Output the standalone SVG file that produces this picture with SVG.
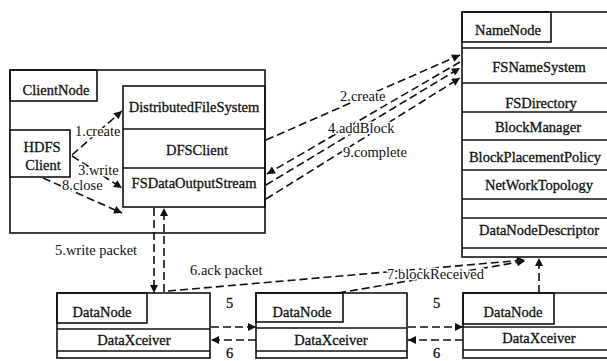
<svg xmlns="http://www.w3.org/2000/svg" width="607" height="361" viewBox="0 0 607 361">
<style>
.box{fill:none;stroke:#111;stroke-width:1.6}
.wbox{fill:#fff;stroke:#111;stroke-width:1.6}
.div{stroke:#111;stroke-width:1.4}
text{font-family:"Liberation Serif","Times New Roman",serif;font-size:14.5px;fill:#111;stroke:#111;stroke-width:0.3}
.c{text-anchor:middle}
.lbl{paint-order:stroke;stroke:#fff;stroke-width:3px;stroke-linejoin:round}
.con{fill:none;stroke:#111;stroke-width:1.6;stroke-dasharray:8 4}
</style>
<defs>
<marker id="ah" viewBox="0 0 10 10" refX="10" refY="5" markerWidth="10" markerHeight="8" markerUnits="userSpaceOnUse" orient="auto">
<path d="M0,0 L10,5 L0,10 z" fill="#111"/>
</marker>
</defs>

<g id="ClientNode">
<rect class="box" x="10" y="70" width="255" height="163"/>
<rect class="box" x="10" y="70" width="87" height="31"/>
<text class="c" x="56" y="95">ClientNode</text>
<rect class="box" x="123" y="86" width="142" height="121"/>
<line class="div" x1="123" y1="129" x2="265" y2="129"/>
<line class="div" x1="123" y1="168" x2="265" y2="168"/>
<text class="c" x="194" y="112">DistributedFileSystem</text>
<text class="c" x="197" y="155">DFSClient</text>
<text class="c" x="194" y="188">FSDataOutputStream</text>
</g>

<g id="HDFSClient">
<rect class="wbox" x="10" y="130" width="60" height="47"/>
<text class="c" x="42" y="152">HDFS</text>
<text class="c" x="43" y="170">Client</text>
</g>

<g id="NameNode">
<rect class="box" x="462" y="12" width="152" height="245"/>
<rect class="box" x="462" y="12" width="89" height="30"/>
<text class="c" x="508" y="35">NameNode</text>
<line class="div" x1="462" y1="48" x2="607" y2="48"/>
<line class="div" x1="462" y1="83" x2="607" y2="83"/>
<line class="div" x1="462" y1="112" x2="607" y2="112"/>
<line class="div" x1="462" y1="140" x2="607" y2="140"/>
<line class="div" x1="462" y1="170" x2="607" y2="170"/>
<line class="div" x1="462" y1="199" x2="607" y2="199"/>
<line class="div" x1="462" y1="218" x2="607" y2="218"/>
<line class="div" x1="462" y1="248" x2="607" y2="248"/>
<text class="c" x="539" y="72">FSNameSystem</text>
<text class="c" x="541" y="108">FSDirectory</text>
<text class="c" x="538" y="132">BlockManager</text>
<text class="c" x="535" y="162">BlockPlacementPolicy</text>
<text class="c" x="539" y="190">NetWorkTopology</text>
<text class="c" x="539" y="235">DataNodeDescriptor</text>
</g>

<g id="DataNode1">
<rect class="box" x="57" y="293" width="153" height="65"/>
<rect class="box" x="57" y="293" width="90" height="30"/>
<line class="div" x1="57" y1="329" x2="210" y2="329"/>
<line class="div" x1="57" y1="351" x2="210" y2="351"/>
<text class="c" x="102" y="317">DataNode</text>
<text class="c" x="134" y="345">DataXceiver</text>
</g>

<g id="DataNode2">
<rect class="box" x="256" y="293" width="151" height="65"/>
<rect class="box" x="256" y="293" width="87" height="29"/>
<line class="div" x1="256" y1="328" x2="407" y2="328"/>
<line class="div" x1="256" y1="351" x2="407" y2="351"/>
<text class="c" x="302" y="317">DataNode</text>
<text class="c" x="331" y="345">DataXceiver</text>
</g>

<g id="DataNode3">
<rect class="box" x="463" y="293" width="152" height="65"/>
<rect class="box" x="463" y="293" width="91" height="31"/>
<line class="div" x1="463" y1="327" x2="607" y2="327"/>
<line class="div" x1="463" y1="350" x2="607" y2="350"/>
<text class="c" x="513" y="317">DataNode</text>
<text class="c" x="539" y="343">DataXceiver</text>
</g>

<g id="connectors">
<path class="con" d="M72,155 L122,111" marker-end="url(#ah)"/>
<path class="con" d="M72,156 L122,188" marker-end="url(#ah)"/>
<path class="con" d="M43,178 L122,213" marker-end="url(#ah)"/>
<path class="con" d="M266,140 L460,55" marker-end="url(#ah)"/>
<path class="con" d="M460,62 L267,174" marker-end="url(#ah)"/>
<path class="con" d="M266,185 L460,68" marker-end="url(#ah)"/>
<path class="con" d="M266,199 L460,78" marker-end="url(#ah)"/>
<path class="con" d="M154,208 L154,293" marker-end="url(#ah)"/>
<path class="con" d="M164,292 L164,208" marker-end="url(#ah)"/>
<path class="con" d="M168,291 L525,260" marker-end="url(#ah)"/>
<path class="con" d="M338,293 L525,261" marker-end="url(#ah)"/>
<path class="con" d="M539,293 L539,258" marker-end="url(#ah)"/>
<path class="con" d="M211,327 L256,327" marker-end="url(#ah)"/>
<path class="con" d="M256,340 L211,340" marker-end="url(#ah)"/>
<path class="con" d="M408,327 L463,327" marker-end="url(#ah)"/>
<path class="con" d="M463,340 L408,340" marker-end="url(#ah)"/>
</g>

<g id="labels">
<text class="lbl" x="75" y="136">1.create</text>
<text class="lbl" x="78" y="175">3.write</text>
<text class="lbl" x="62" y="190">8.close</text>
<text class="lbl" x="340" y="101">2.create</text>
<text class="lbl" x="328" y="133">4.addBlock</text>
<text class="lbl" x="343" y="157">9.complete</text>
<text class="lbl" x="55" y="255">5.write packet</text>
<text class="lbl" x="190" y="275">6.ack packet</text>
<text class="lbl" x="387" y="279">7.blockReceived</text>
<text x="226" y="308">5</text>
<text x="226" y="358">6</text>
<text x="433" y="308">5</text>
<text x="433" y="358">6</text>
</g>
</svg>
